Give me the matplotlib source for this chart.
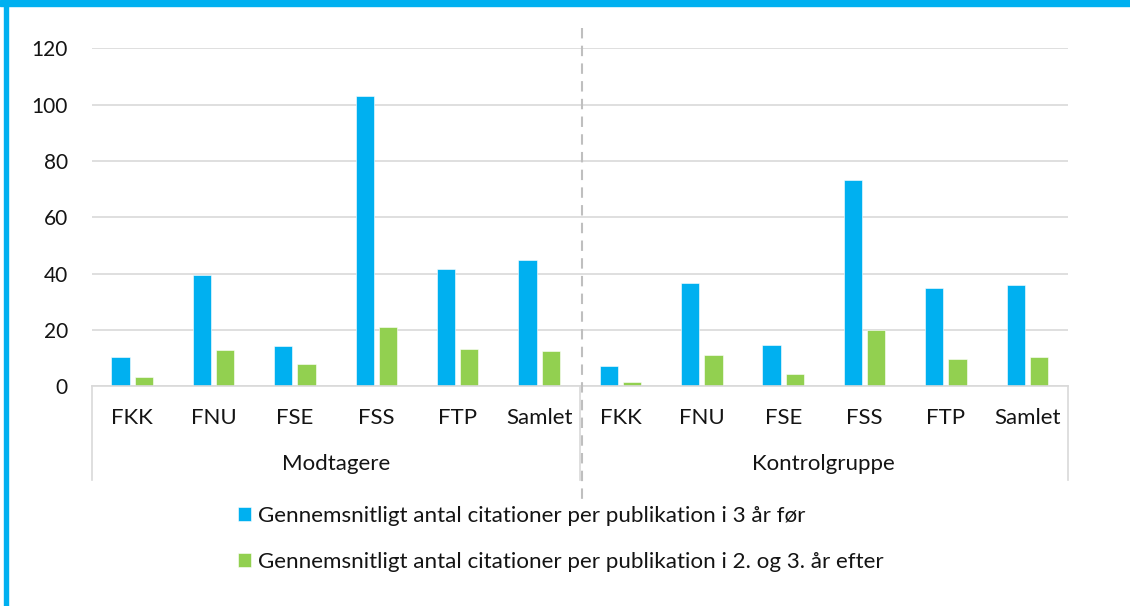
import matplotlib
matplotlib.use("Agg")
import matplotlib.pyplot as plt
import numpy as np
from matplotlib.patches import Rectangle
from matplotlib.lines import Line2D
from matplotlib.transforms import blended_transform_factory

# Data
groups = ["Modtagere", "Kontrolgruppe"]
faculties = ["FKK", "FNU", "FSE", "FSS", "FTP", "Samlet"]
before = [10.4, 39.4, 14.4, 103.2, 41.8, 44.9,
          7.3, 36.5, 14.7, 73.4, 34.9, 36.1]
after = [3.4, 12.9, 8.0, 21.1, 13.2, 12.7,
         1.6, 11.2, 4.4, 20.0, 9.6, 10.4]
series_names = ["Gennemsnitligt antal citationer per publikation i 3 år før",
                "Gennemsnitligt antal citationer per publikation i 2. og 3. år efter"]
yticks = [0, 20, 40, 60, 80, 100, 120]

BLUE = "#00B0F0"
GREEN = "#92D050"
GRID = "#D9D9D9"
TEXT = "#141414"
FONT = "Lato"
FS_TICK = 15
FS_CAT = 16
FS_LEG = 16.1

plt.rcParams["font.family"] = [FONT, "DejaVu Sans"]

W, H = 1130, 606
fig = plt.figure(figsize=(W / 100, H / 100), dpi=100)

# axes box in pixel coordinates
x0, x1 = 91.5, 1068.0
y_top, y_base = 48.3, 386.3
ax = fig.add_axes([x0 / W, 1 - y_base / H, (x1 - x0) / W, (y_base - y_top) / H])

n = len(before)
x = np.arange(n)
bw = 0.225
off = 0.143
ax.bar(x - off, before, width=bw, color=BLUE, edgecolor="white", linewidth=0.4,
       label=series_names[0], zorder=3)
ax.bar(x + off, after, width=bw, color=GREEN, edgecolor="white", linewidth=0.4,
       label=series_names[1], zorder=3)

ax.set_xlim(-0.5, n - 0.5)
ax.set_ylim(0, 120)
ax.set_yticks(yticks)
ax.set_yticklabels([str(v) for v in yticks], fontsize=FS_TICK, color=TEXT)
ax.tick_params(axis="y", length=0, pad=17)
ax.set_xticks([])
ax.yaxis.grid(True, color=GRID, linewidth=1.2, zorder=0)
for s in ax.spines.values():
    s.set_visible(False)

px = 1.0 / (y_base - y_top)  # one pixel in axes-y units
tr = blended_transform_factory(ax.transData, ax.transAxes)

# category axis frame
ax.plot([-0.5, n - 0.5], [0, 0], transform=tr, color=GRID, lw=1.2,
        clip_on=False, zorder=4)
frame_bottom = -(479.5 - y_base) * px
for xv in [-0.5, 5.5, n - 0.5]:
    ax.plot([xv, xv], [0, frame_bottom], transform=tr, color=GRID, lw=1.2,
            clip_on=False)

# inner labels
lab_y = -(418.5 - y_base) * px
for i in range(n):
    ax.text(x[i], lab_y, faculties[i % len(faculties)], transform=tr,
            ha="center", va="center", fontsize=FS_CAT, color=TEXT)
grp_y = -(464 - y_base) * px
for g, name in enumerate(groups):
    ax.text(2.5 + 6 * g, grp_y, name, transform=tr, ha="center", va="center",
            fontsize=FS_CAT, color=TEXT)

# dashed separator between the two groups
sep_x = 5.5 + 2.2 / ((x1 - x0) / n)
ax.add_line(Line2D([sep_x, sep_x], [(y_base - 28) * px, -(500 - y_base) * px],
                   transform=tr, color="#BFBFBF", lw=1.5, ls=(0, (5, 3.5)),
                   clip_on=False, zorder=5))

# legend
leg = fig.legend(loc="upper left", bbox_to_anchor=(238 / W, 1 - 506 / H),
                 frameon=False, fontsize=FS_LEG, handlelength=0.58, handleheight=0.58,
                 handletextpad=0.32, labelspacing=1.17, borderpad=0, borderaxespad=0)
for t in leg.get_texts():
    t.set_color(TEXT)

# outer border of the chart
fig.patches.append(Rectangle((0, 1 - 6 / H), 1, 6 / H, transform=fig.transFigure,
                             color=BLUE, zorder=10))
fig.patches.append(Rectangle((4 / W, 0), 3.5 / W, 1, transform=fig.transFigure,
                             color=BLUE, zorder=10))

fig.savefig("out.png", dpi=100)
